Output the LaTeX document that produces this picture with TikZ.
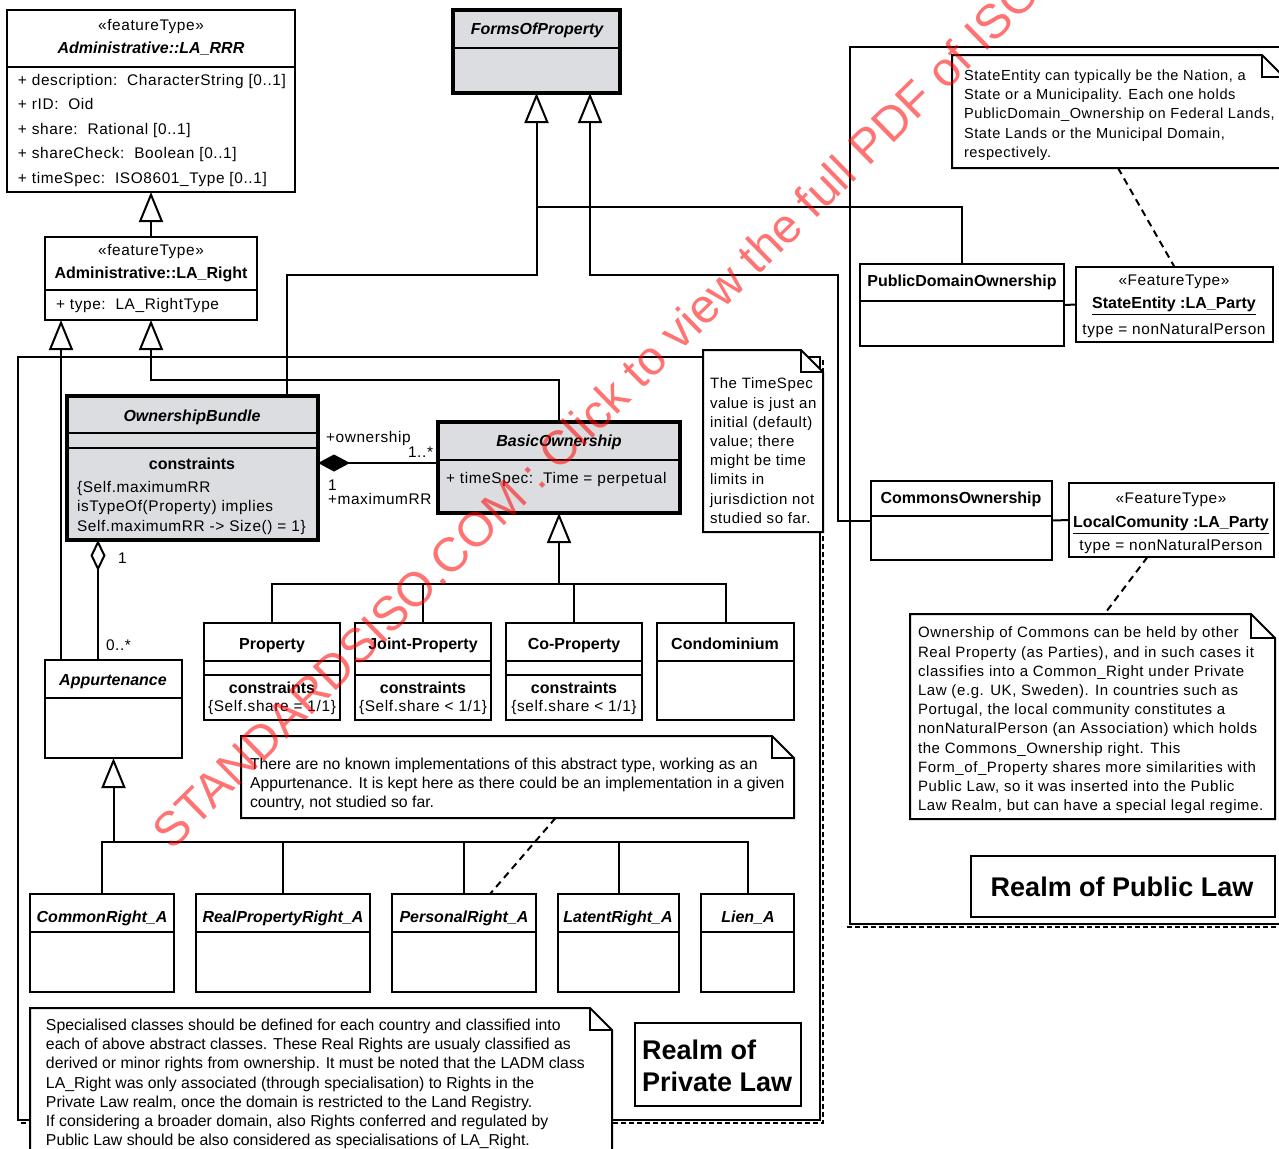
\documentclass[tikz,border=0pt]{standalone}
\usepackage{fontspec}
\setmainfont{Liberation Sans}[LetterSpace=4,BoldFeatures={LetterSpace=0},BoldItalicFeatures={LetterSpace=0}]
\newfontfamily\notefont{Liberation Sans}
\usetikzlibrary{arrows.meta,calc}
\definecolor{classgray}{RGB}{220,221,224}

% class box from pixel corners: name, x1, y1, x2, y2
\newcommand{\classbox}[6][]{%
  \node[umlbox,#1,minimum width={(#5-#3)*0.5pt},minimum height={(#6-#4)*0.5pt}] (#2) at ({(#3+#5)/2},{(#4+#6)/2}) {};}
\newcommand{\classsep}[2]{\draw (#1.west |- 0,#2) -- (#1.east |- 0,#2);}
% note with folded corner
\newcommand{\umlnote}[6]{%
  \node[inner sep=0pt,outer sep=0pt,minimum width={(#4-#2)*0.5pt},minimum height={(#5-#3)*0.5pt}] (#1) at ({(#2+#4)/2},{(#3+#5)/2}) {};
  \filldraw[fill=white] (#1.north west) -- ([xshift=-#6]#1.north east) -- ([yshift=-#6]#1.north east) -- (#1.south east) -- (#1.south west) -- cycle;
  \draw ([xshift=-#6]#1.north east) |- ([yshift=-#6]#1.north east);}

\tikzset{
  umlbox/.style={draw,line width=1pt,fill=white,inner sep=0pt,outer sep=0pt},
  heavy/.style={line width=1.6pt,fill=classgray},
  txt/.style={inner sep=0pt,anchor=mid,font=\fontsize{7.7}{9.6}\selectfont},
  ttl/.style={txt,font=\fontsize{8}{9.6}\selectfont\bfseries},
  abs/.style={txt,font=\fontsize{8}{9.6}\selectfont\bfseries\itshape},
  attr/.style={txt,anchor=mid west},
  para/.style={inner sep=0pt,anchor=north west,align=left,font=\fontsize{7.5}{9.6}\selectfont},
  realm/.style={inner sep=0pt,font=\fontsize{13.5}{16}\selectfont\bfseries},
  gen/.style={-{Triangle[length=15pt,width=12pt,fill=white]}},
  comp/.style={-{Diamond[length=16pt,width=8.5pt]}},
  aggr/.style={-{Diamond[length=15.5pt,width=7.5pt,fill=white]}},
  link/.style={dash pattern=on 3.5pt off 2.5pt},
  pkgshade/.style={line width=1.2pt,dash pattern=on 2.5pt off 1.5pt},
  wmark/.style={inner sep=0pt,anchor=base west,rotate=44.5,text=red,text opacity=0.55,
    font=\fontsize{24}{24}\selectfont\addfontfeature{LetterSpace=0}},
}

\begin{document}
\begin{tikzpicture}[x=0.5pt,y=-0.5pt,line width=1pt]
\useasboundingbox (0,0) rectangle (1279,1148);

% realms
\draw (18,357) rectangle (820,1120);
\draw[pkgshade] (823,360) -- (823,1123) -- (21,1123);
\draw (1300,47) -- (850,47) -- (850,924) -- (1300,924);
\draw[pkgshade] (847,927) -- (1300,927);

% administrative package classes
\classbox{rrr}{7}{10}{295}{192}
\classsep{rrr}{67}
\node[txt] (rrr-st) at (151,25) {«featureType»};
\node[abs] (rrr-n) at (151,48) {Administrative::LA\_RRR};
\node[para,font=\fontsize{7.7}{12.25}\selectfont] (rrr-a) at (17,73) {+ description:\ \ CharacterString [0..1]\\+ rID:\ \ Oid\\+ share:\ \ Rational [0..1]\\+ shareCheck:\ \ Boolean [0..1]\\+ timeSpec:\ \ ISO8601\_Type [0..1]};

\classbox{laright}{45}{237}{257}{320}
\classsep{laright}{290}
\node[txt] (lr-st) at (151,250) {«featureType»};
\node[ttl] (lr-n) at (151,273) {Administrative::LA\_Right};
\node[attr] (lr-a) at (55,304) {+ type:\ \ LA\_RightType};

\classbox[heavy]{fop}{453}{10}{620}{93}
\classsep{fop}{48}
\node[abs] (fop-n) at (537,29) {FormsOfProperty};

% private law
\classbox[heavy]{ob}{67}{396}{318}{540}
\classsep{ob}{433}
\classsep{ob}{448}
\node[abs] (ob-n) at (192,416) {OwnershipBundle};
\node[ttl] (ob-c) at (192,464) {constraints};
\node[para,font=\fontsize{7.7}{9.75}\selectfont] (ob-t) at (76,480) {\{Self.maximumRR\\isTypeOf(Property) implies\\Self.maximumRR -> Size() = 1\}};

\classbox[heavy]{bo}{438}{422}{680}{513}
\classsep{bo}{460}
\node[abs] (bo-n) at (559,441) {BasicOwnership};
\node[attr] (bo-a) at (445,478) {+ timeSpec:\ \ Time = perpetual};

\classbox{prop}{204}{623}{340}{720}
\classsep{prop}{661}
\classsep{prop}{675}
\node[ttl] (prop-n) at (272,644) {Property};
\node[ttl] (prop-c) at (272,688) {constraints};
\node[txt] (prop-t) at (272,706) {\{Self.share = 1/1\}};

\classbox{jprop}{355}{623}{491}{720}
\classsep{jprop}{661}
\classsep{jprop}{675}
\node[ttl] (jprop-n) at (423,644) {Joint-Property};
\node[ttl] (jprop-c) at (423,688) {constraints};
\node[txt] (jprop-t) at (423,706) {\{Self.share < 1/1\}};

\classbox{cprop}{506}{623}{642}{720}
\classsep{cprop}{661}
\classsep{cprop}{675}
\node[ttl] (cprop-n) at (574,644) {Co-Property};
\node[ttl] (cprop-c) at (574,688) {constraints};
\node[txt] (cprop-t) at (574,706) {\{self.share < 1/1\}};

\classbox{condo}{657}{623}{794}{720}
\classsep{condo}{661}
\node[ttl] (condo-n) at (725,644) {Condominium};

\classbox{appurt}{45}{660}{182}{758}
\classsep{appurt}{698}
\node[abs] (ap-n) at (113,680) {Appurtenance};

\classbox{crA}{30}{894}{174}{992}
\classsep{crA}{932}
\node[abs] (crA-n) at (102,917) {CommonRight\_A};
\classbox{rpA}{196}{894}{370}{992}
\classsep{rpA}{932}
\node[abs] (rpA-n) at (283,917) {RealPropertyRight\_A};
\classbox{prA}{392}{894}{536}{992}
\classsep{prA}{932}
\node[abs] (prA-n) at (464,917) {PersonalRight\_A};
\classbox{ltA}{558}{894}{679}{992}
\classsep{ltA}{932}
\node[abs] (ltA-n) at (618,917) {LatentRight\_A};
\classbox{lnA}{701}{894}{794}{992}
\classsep{lnA}{932}
\node[abs] (lnA-n) at (748,917) {Lien\_A};

\classbox{privrealm}{635}{1023}{801}{1106}
\node[realm,anchor=north west,align=left] (priv-t) at (641,1039) {Realm of\\Private Law};

% public law
\classbox{pdo}{860}{264}{1064}{346}
\classsep{pdo}{301}
\node[ttl] (pdo-n) at (962,281) {PublicDomainOwnership};

\classbox{se}{1076}{267}{1273}{342}
\node[txt] (se-st) at (1174,280) {«FeatureType»};
\node[ttl] (se-n) at (1174,303) {\underline{StateEntity :LA\_Party}};
\node[txt] (se-t) at (1174,329) {type = nonNaturalPerson};

\classbox{co}{871}{481}{1052}{560}
\classsep{co}{516}
\node[ttl] (co-n) at (961,498) {CommonsOwnership};

\classbox{lc}{1069}{483}{1274}{557}
\node[txt] (lc-st) at (1171,498) {«FeatureType»};
\node[ttl] (lc-n) at (1171,522) {\underline{LocalComunity :LA\_Party}};
\node[txt] (lc-t) at (1171,545) {type = nonNaturalPerson};

\classbox{pubrealm}{971}{856}{1275}{917}
\node[realm] (pub-t) at (1122,887) {Realm of Public Law};

% generalisations
\draw[gen] (laright.north) -- (rrr.south);
\draw[gen] ([xshift=8pt]appurt.north west) -- ([xshift=8pt]laright.south west);
\draw[gen] (bo.north) -- ++(0,-42) -| (laright.south);
\draw[gen] ([xshift=110pt]ob.north west) -- ++(0,-121) -| (fop.south);
\draw (pdo.north) |- ([yshift=-57pt]fop.south);
\draw[gen] (co.west) -- ++(-33,0) |- ([xshift=-15pt,yshift=-91pt]fop.south east) -- ([xshift=-15pt]fop.south east);
\draw[gen] ([yshift=-35.5pt]bo.south) -- (bo.south);
\draw (prop.north) |- ([yshift=-35.5pt]bo.south);
\draw (jprop.north) |- ([yshift=-35.5pt]bo.south);
\draw (cprop.north) |- ([yshift=-35.5pt]bo.south);
\draw (condo.north) |- ([yshift=-35.5pt]bo.south);
\draw[gen] ([yshift=-42pt]appurt.south) -- (appurt.south);
\draw (crA.north) |- ([yshift=-42pt]appurt.south);
\draw (rpA.north) |- ([yshift=-42pt]appurt.south);
\draw (prA.north) |- ([yshift=-42pt]appurt.south);
\draw (ltA.north) |- ([yshift=-42pt]appurt.south);
\draw (lnA.north) |- ([yshift=-42pt]appurt.south);

% associations
\draw[comp] ([yshift=2.25pt]bo.west) -- ([yshift=2.5pt]ob.east);
\node[txt,anchor=mid west] (own-r) at (325,437) {+ownership};
\node[txt,anchor=mid east] (own-m) at (434,452) {1..*};
\node[txt,anchor=mid west] (max-m) at (327,485) {1};
\node[txt,anchor=mid west] (max-r) at (327,499) {+maximumRR};
\draw[aggr] ([xshift=26.5pt]appurt.north west) -- ([xshift=15.5pt]ob.south west);
\node[txt,anchor=mid west] (agg-1) at (117,558) {1};
\node[txt,anchor=mid west] (agg-n) at (105,645) {0..*};
\draw (pdo.east) -- (se.west);
\draw (co.east) -- (lc.west);

% notes
\umlnote{tsnote}{703}{350}{823}{532}{11pt}
\node[para] (ts-t) at (709,377) {The TimeSpec\\value is just an\\initial (default)\\value; there\\might be time\\limits in\\jurisdiction not\\studied so far.};

\umlnote{nknote}{241}{736}{794}{818}{11pt}
\node[para,font=\fontsize{7.9}{9.6}\notefont] (nk-t) at (249,757) {There are no known implementations of this abstract type, working as an\\Appurtenance. It is kept here as there could be an implementation in a given\\country, not studied so far.};

\umlnote{spnote}{30}{1008}{612}{1168}{11pt}
\node[para,font=\fontsize{7.9}{9.6}\notefont] (sp-t) at (45,1018) {Specialised classes should be defined for each country and classified into\\each of above abstract classes. These Real Rights are usualy classified as\\derived or minor rights from ownership. It must be noted that the LADM class\\LA\_Right was only associated (through specialisation) to Rights in the\\Private Law realm, once the domain is restricted to the Land Registry.\\If considering a broader domain, also Rights conferred and regulated by\\Public Law should be also considered as specialisations of LA\_Right.};

\umlnote{senote}{952}{55}{1284}{168}{11pt}
\node[para,font=\fontsize{7.3}{9.6}\selectfont] (se-nt) at (963,69) {StateEntity can typically be the Nation, a\\State or a Municipality. Each one holds\\PublicDomain\_Ownership on Federal Lands,\\State Lands or the Municipal Domain,\\respectively.};

\umlnote{cmnote}{910}{614}{1275}{819}{12pt}
\node[para] (cm-t) at (917,626) {Ownership of Commons can be held by other\\Real Property (as Parties), and in such cases it\\classifies into a Common\_Right under Private\\Law (e.g. UK, Sweden). In countries such as\\Portugal, the local community constitutes a\\nonNaturalPerson (an Association) which holds\\the Commons\_Ownership right. This\\Form\_of\_Property shares more similarities with\\Public Law, so it was inserted into the Public\\Law Realm, but can have a special legal regime.};

% note anchors
\draw[link] ([xshift=19pt]nknote.south) -- ([xshift=13pt]prA.north);
\draw[link] (senote.south) -- (se.north);
\draw[link] ([xshift=-12pt]lc.south) -- ([xshift=6pt]cmnote.north);

% watermark
\node[wmark] (wm) at (172,852) {STANDARDSISO.COM : Click to view the full PDF of ISO};
\end{tikzpicture}
\end{document}
